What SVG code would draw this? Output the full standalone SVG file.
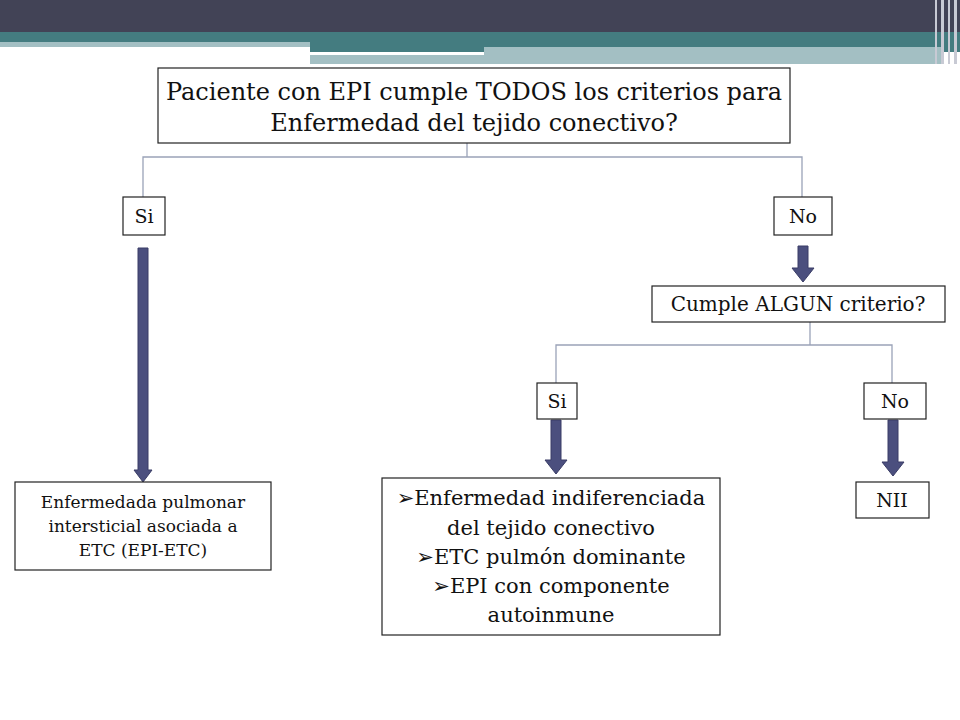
<svg xmlns="http://www.w3.org/2000/svg" width="960" height="720" viewBox="0 0 960 720">
<style>
.b{fill:#fff;stroke:#222;stroke-width:1.2}
text{font-family:"DejaVu Serif","Liberation Serif",serif;fill:#111;text-anchor:middle}
.c{fill:none;stroke:#9aa3b8;stroke-width:1.3}
.a{fill:#4b4f7e;stroke:#3a3d66;stroke-width:1}
</style>
<rect width="960" height="720" fill="#fff"/>
<rect x="0" y="0" width="960" height="32" fill="#424356"/>
<rect x="0" y="32" width="960" height="10" fill="#447c80"/>
<rect x="0" y="42" width="310" height="5" fill="#a3bfc3"/>
<rect x="310" y="42" width="650" height="10" fill="#447c80"/>
<rect x="484" y="47" width="460" height="17" fill="#a3bfc3"/>
<rect x="310" y="52" width="174" height="3" fill="#fff"/>
<rect x="310" y="55" width="110" height="9" fill="#a3bfc3"/>
<rect x="420" y="55" width="64" height="9" fill="#a3bfc3"/>
<g fill="#c8cad4"><rect x="935" y="0" width="2" height="64"/><rect x="941" y="0" width="3" height="64"/><rect x="948" y="0" width="2" height="64"/><rect x="954" y="0" width="3" height="64"/></g>
<g id="connectors">
<path class="c" d="M467 143V157M143 197V157H802V197"/>
<path class="c" d="M810 322V345M556 383V345H892V383"/>
<path class="a" d="M138 248H148V470H152L143 482L134 470H138Z"/>
<path class="a" d="M798 246H808V268H814L803 282L792 268H798Z"/>
<path class="a" d="M551 420H561V460H567L556 474L545 460H551Z"/>
<path class="a" d="M888 420H898V462H904L893 476L882 462H888Z"/>
</g>
<g id="n1"><rect class="b" x="158" y="68" width="632" height="75"/>
<text x="474" y="100" font-size="24">Paciente con EPI cumple TODOS los criterios para</text>
<text x="474" y="131" font-size="24">Enfermedad del tejido conectivo?</text></g>
<g id="n2"><rect class="b" x="123" y="197" width="42" height="38"/><text x="144" y="223" font-size="19">Si</text></g>
<g id="n3"><rect class="b" x="774" y="197" width="58" height="38"/><text x="803" y="223" font-size="19">No</text></g>
<g id="n4"><rect class="b" x="652" y="286" width="293" height="36"/><text x="798" y="311" font-size="20">Cumple ALGUN  criterio?</text></g>
<g id="n5"><rect class="b" x="537" y="383" width="40" height="36"/><text x="557" y="408" font-size="19">Si</text></g>
<g id="n6"><rect class="b" x="864" y="383" width="62" height="36"/><text x="895" y="408" font-size="19">No</text></g>
<g id="n7"><rect class="b" x="15" y="482" width="256" height="88"/>
<text x="143" y="508" font-size="17">Enfermedada pulmonar</text>
<text x="143" y="532" font-size="17">intersticial asociada a</text>
<text x="143" y="556" font-size="17">ETC  (EPI-ETC)</text></g>
<g id="n8"><rect class="b" x="382" y="478" width="338" height="157"/>
<text x="551" y="505" font-size="21"><tspan font-family="DejaVu Sans">➢</tspan>Enfermedad indiferenciada</text>
<text x="551" y="535" font-size="21">del tejido conectivo</text>
<text x="551" y="564" font-size="21"><tspan font-family="DejaVu Sans">➢</tspan>ETC pulmón dominante</text>
<text x="551" y="593" font-size="21"><tspan font-family="DejaVu Sans">➢</tspan>EPI con componente</text>
<text x="551" y="622" font-size="21">autoinmune</text></g>
<g id="n9"><rect class="b" x="856" y="482" width="73" height="36"/><text x="892" y="507" font-size="19">NII</text></g>
</svg>
